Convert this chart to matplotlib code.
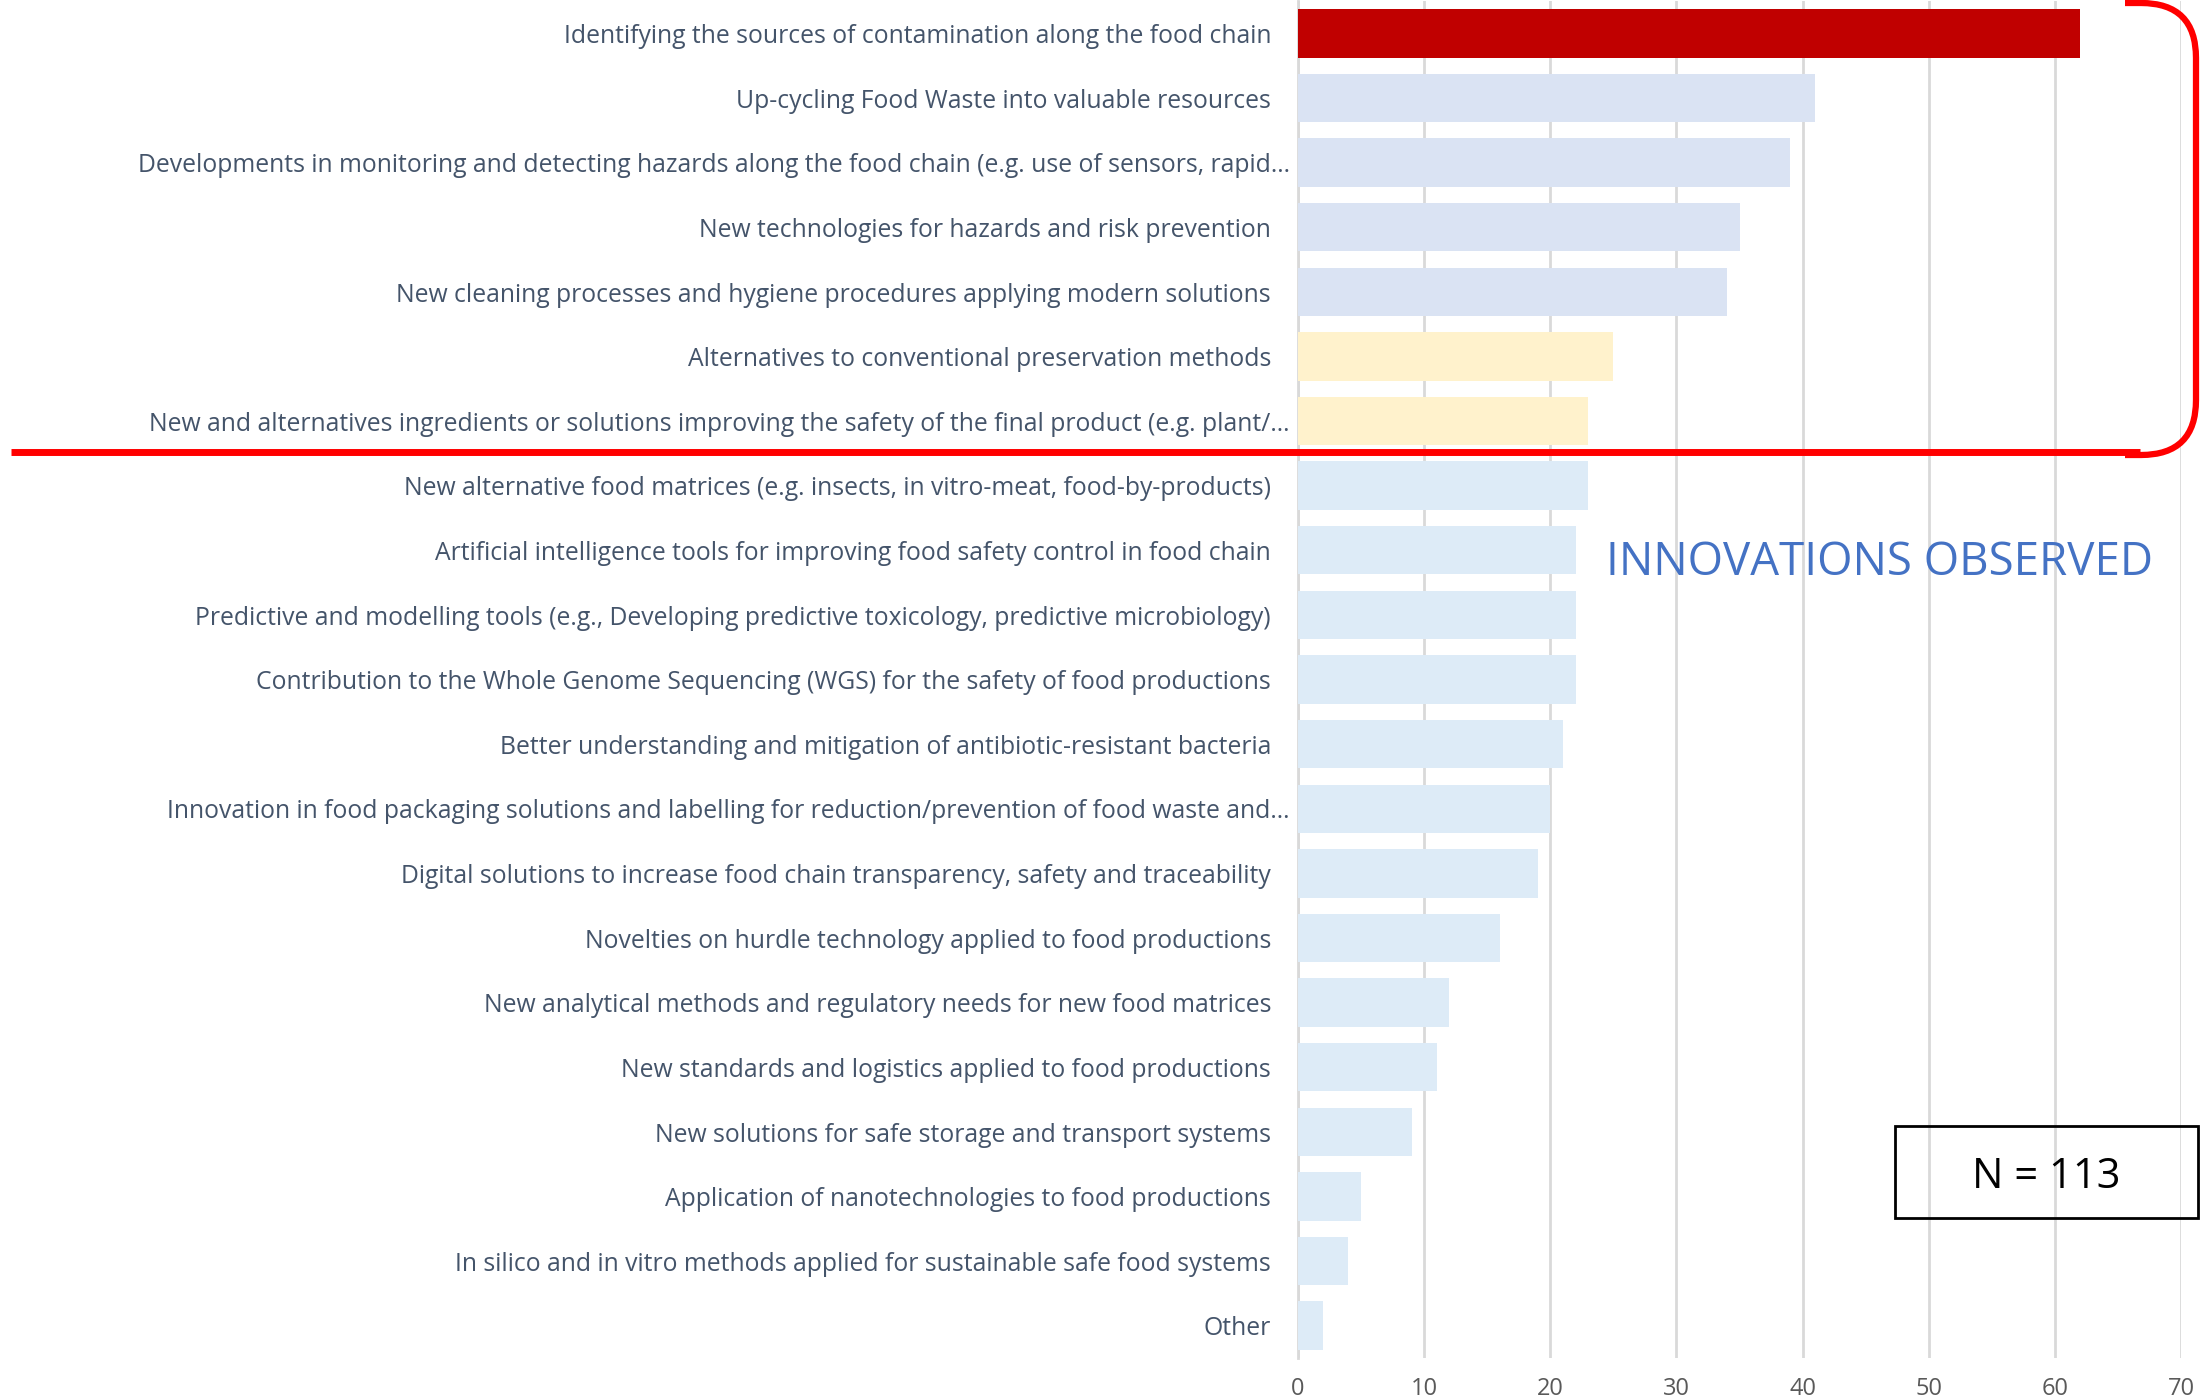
import matplotlib
matplotlib.use("Agg")
import matplotlib.pyplot as plt
from matplotlib.path import Path
from matplotlib.patches import PathPatch, Rectangle

categories = [
    "Identifying the sources of contamination along the food chain",
    "Up-cycling Food Waste into valuable resources",
    "Developments in monitoring and detecting hazards along the food chain (e.g. use of sensors, rapid\u2026",
    "New technologies for hazards and risk prevention",
    "New cleaning processes and hygiene procedures applying modern solutions",
    "Alternatives to conventional preservation methods",
    "New and alternatives ingredients or solutions improving the safety of the final product (e.g. plant/\u2026",
    "New alternative food matrices (e.g. insects, in vitro-meat, food-by-products)",
    "Artificial intelligence tools for improving food safety control in food chain",
    "Predictive and modelling tools (e.g., Developing predictive toxicology, predictive microbiology)",
    "Contribution to the Whole Genome Sequencing (WGS) for the safety of food productions",
    "Better understanding and mitigation of antibiotic-resistant bacteria",
    "Innovation in food packaging solutions and labelling for reduction/prevention of food waste and\u2026",
    "Digital solutions to increase food chain transparency, safety and traceability",
    "Novelties on hurdle technology applied to food productions",
    "New analytical methods and regulatory needs for new food matrices",
    "New standards and logistics applied to food productions",
    "New solutions for safe storage and transport systems",
    "Application of nanotechnologies to food productions",
    "In silico and in vitro methods applied for sustainable safe food systems",
    "Other",
]
values = [62, 41, 39, 35, 34, 25, 23, 23, 22, 22, 22, 21, 20, 19, 16, 12, 11, 9, 5, 4, 2]
xticks = [0, 10, 20, 30, 40, 50, 60, 70]

RED = "#C00000"
LAVENDER = "#DAE3F3"
CREAM = "#FFF2CC"
LIGHTBLUE = "#DDEBF7"
colors = [RED] + [LAVENDER] * 4 + [CREAM] * 2 + [LIGHTBLUE] * 14

W, H = 2203, 1397
fig = plt.figure(figsize=(W / 100, H / 100), dpi=100)
plt.rcParams['font.family'] = ['Open Sans', 'DejaVu Sans']

ax_l, ax_r = 1298 / W, 2181 / W
ax_t, ax_b = 1 - 1.0 / H, 1 - 1358 / H
ax = fig.add_axes([ax_l, ax_b, ax_r - ax_l, ax_t - ax_b])

ypos = list(range(len(categories)))
ax.barh(ypos, values, height=0.75, color=colors, zorder=3)
ax.set_ylim(len(categories) - 0.5, -0.5)
ax.set_xlim(0, 70)
ax.set_xticks(xticks)
ax.set_xticklabels([str(t) for t in xticks], fontsize=17, color="#595959")
ax.tick_params(axis="x", length=0, pad=14)
ax.tick_params(axis="y", length=0, labelleft=False)
ax.grid(axis="x", color="#D9D9D9", linewidth=2, zorder=0)
for s in ["top", "right", "bottom"]:
    ax.spines[s].set_visible(False)
ax.spines["left"].set_color("#D9D9D9")
ax.spines["left"].set_linewidth(2)

tr = ax.get_yaxis_transform()
for y, lab in zip(ypos, categories):
    if lab.endswith("\u2026"):
        xa = (1290 - 1298) / (2181 - 1298)
    else:
        xa = (1271 - 1298) / (2181 - 1298)
    ax.text(xa, y + 0.05, lab, transform=tr, ha="right", va="center",
            fontsize=17.8, color="#44546A")

# Red separator line and bracket (figure pixel coordinates)
def fx(x):
    return x / W

def fy(y):
    return 1 - y / H

ft = fig.transFigure
fig.add_artist(plt.Line2D([fx(11), fx(2140)], [fy(452), fy(452)], color="#FF0000",
                          linewidth=5, transform=ft, solid_capstyle="butt"))
r = 55
xr = 2196
verts = [(2125, 3), (xr - r, 3), (xr, 3), (xr, 3 + r), (xr, 455 - r), (xr, 455), (xr - r, 455), (2125, 455)]
codes = [Path.MOVETO, Path.LINETO, Path.CURVE3, Path.CURVE3, Path.LINETO, Path.CURVE3, Path.CURVE3, Path.LINETO]
path = Path([(fx(x), fy(y)) for x, y in verts], codes)
fig.add_artist(PathPatch(path, fill=False, edgecolor="#FF0000", linewidth=4.5, transform=ft))

# Title-like annotation, sized to the reference width
t = fig.text(fx(1880), fy(563), "INNOVATIONS OBSERVED", ha="center", va="center",
             fontsize=33, color="#4472C4")
fig.canvas.draw()
bb = t.get_window_extent()
t.set_fontsize(33 * 548 / bb.width)

# N box
fig.add_artist(Rectangle((fx(1895), fy(1218)), fx(2198) - fx(1895), fy(1126) - fy(1218),
                         fill=False, edgecolor="black", linewidth=2, transform=ft))
fig.text(fx(2046), fy(1177), "N = 113", ha="center", va="center", fontsize=30, color="black")

fig.savefig("out.png", dpi=100)
